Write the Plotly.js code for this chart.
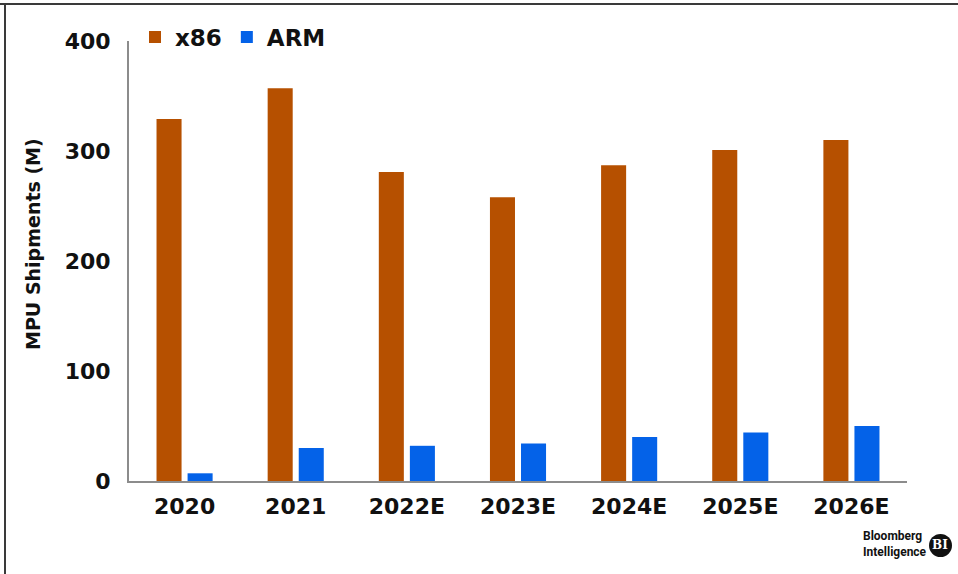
<!DOCTYPE html>
<html>
<head>
<meta charset="utf-8">
<script src="https://cdn.plot.ly/plotly-3.0.1.min.js"></script>
<style>
  html, body { margin: 0; padding: 0; background: #fff; }
  #chart { width: 958px; height: 574px; }
</style>
</head>
<body>
<div id="chart"></div>
<script>
// MPU shipments by architecture, millions of units
const years = ['2020', '2021', '2022E', '2023E', '2024E', '2025E', '2026E'];
const x86Shipments = [329, 357, 281, 258, 287, 301, 310];
const armShipments = [7, 30, 32, 34, 40, 44, 50];
const yTicks = [0, 100, 200, 300, 400];

const BOLD = '"DejaVu Sans", Verdana, sans-serif';

const traces = [
  {
    type: 'bar', name: 'x86', x: years, y: x86Shipments,
    marker: { color: '#B65000' }, hoverinfo: 'x+y+name'
  },
  {
    type: 'bar', name: 'ARM', x: years, y: armShipments,
    marker: { color: '#0462E8' }, hoverinfo: 'x+y+name'
  }
];

// plot area spans 129..907 px horizontally and 41..481 px vertically
const L = 129, R = 51, T = 41, B = 93;
const PW = 958 - L - R, PH = 574 - T - B;
const px = v => (v - L) / PW;          // page x -> paper x
const py = v => (574 - B - v) / PH;    // page y -> paper y

const layout = {
  width: 958, height: 574,
  margin: { l: L, r: R, t: T, b: B, pad: 0 },
  paper_bgcolor: '#ffffff', plot_bgcolor: '#ffffff',
  barmode: 'group', bargap: 0.441, bargroupgap: 0.194,
  font: { family: BOLD, color: '#111', size: 22, weight: 'bold' },
  xaxis: {
    type: 'category',
    showgrid: false, zeroline: false,
    showline: true, linecolor: '#8c8c8c', linewidth: 2,
    ticks: '', ticklabelstandoff: 5,
    tickfont: { family: BOLD, size: 22, color: '#111', weight: 'bold' }
  },
  yaxis: {
    range: [0, 400], tickvals: yTicks, ticktext: yTicks.map(String),
    showgrid: false, zeroline: false,
    showline: true, linecolor: '#8c8c8c', linewidth: 2,
    ticks: '', ticklabelstandoff: 12,
    tickfont: { family: BOLD, size: 22, color: '#111', weight: 'bold' }
  },
  showlegend: true,
  legend: {
    orientation: 'h', x: px(135), xanchor: 'left', y: py(37), yanchor: 'middle',
    bgcolor: 'rgba(0,0,0,0)', itemwidth: 30, tracegroupgap: 0,
    font: { family: BOLD, size: 23, color: '#111', weight: 'bold' },
    itemclick: false, itemdoubleclick: false
  },
  annotations: [
    {
      text: 'MPU Shipments (M)', textangle: -90,
      xref: 'paper', yref: 'paper', x: px(33), y: py(244),
      xanchor: 'center', yanchor: 'middle', showarrow: false,
      font: { family: BOLD, size: 19, color: '#111', weight: 'bold' }
    },
    {
      text: 'Bloomberg<br>Intelligence', align: 'left',
      xref: 'paper', yref: 'paper', x: px(861), y: py(544),
      xanchor: 'left', yanchor: 'middle', showarrow: false,
      font: { family: 'Roboto, sans-serif', size: 12, color: '#111', weight: 'bold' }
    },
    {
      text: 'BI',
      xref: 'paper', yref: 'paper', x: px(940), y: py(545),
      xanchor: 'center', yanchor: 'middle', showarrow: false,
      font: { family: '"DejaVu Serif", serif', size: 12, color: '#ffffff' }
    }
  ],
  shapes: [
    // outer frame: top and left edges
    {
      type: 'line', xref: 'paper', yref: 'paper', layer: 'above',
      x0: px(0), x1: px(958), y0: py(4), y1: py(4),
      line: { color: '#3a3a3a', width: 2 }
    },
    {
      type: 'line', xref: 'paper', yref: 'paper', layer: 'above',
      x0: px(5), x1: px(5), y0: py(4), y1: py(574),
      line: { color: '#3a3a3a', width: 2 }
    },
    // logo badge
    {
      type: 'circle', xref: 'paper', yref: 'paper', layer: 'above',
      x0: px(929), x1: px(952), y0: py(534), y1: py(557),
      fillcolor: '#111111', line: { width: 0 }
    }
  ]
};

Plotly.newPlot('chart', traces, layout, { displayModeBar: false, staticPlot: true });
</script>
</body>
</html>
